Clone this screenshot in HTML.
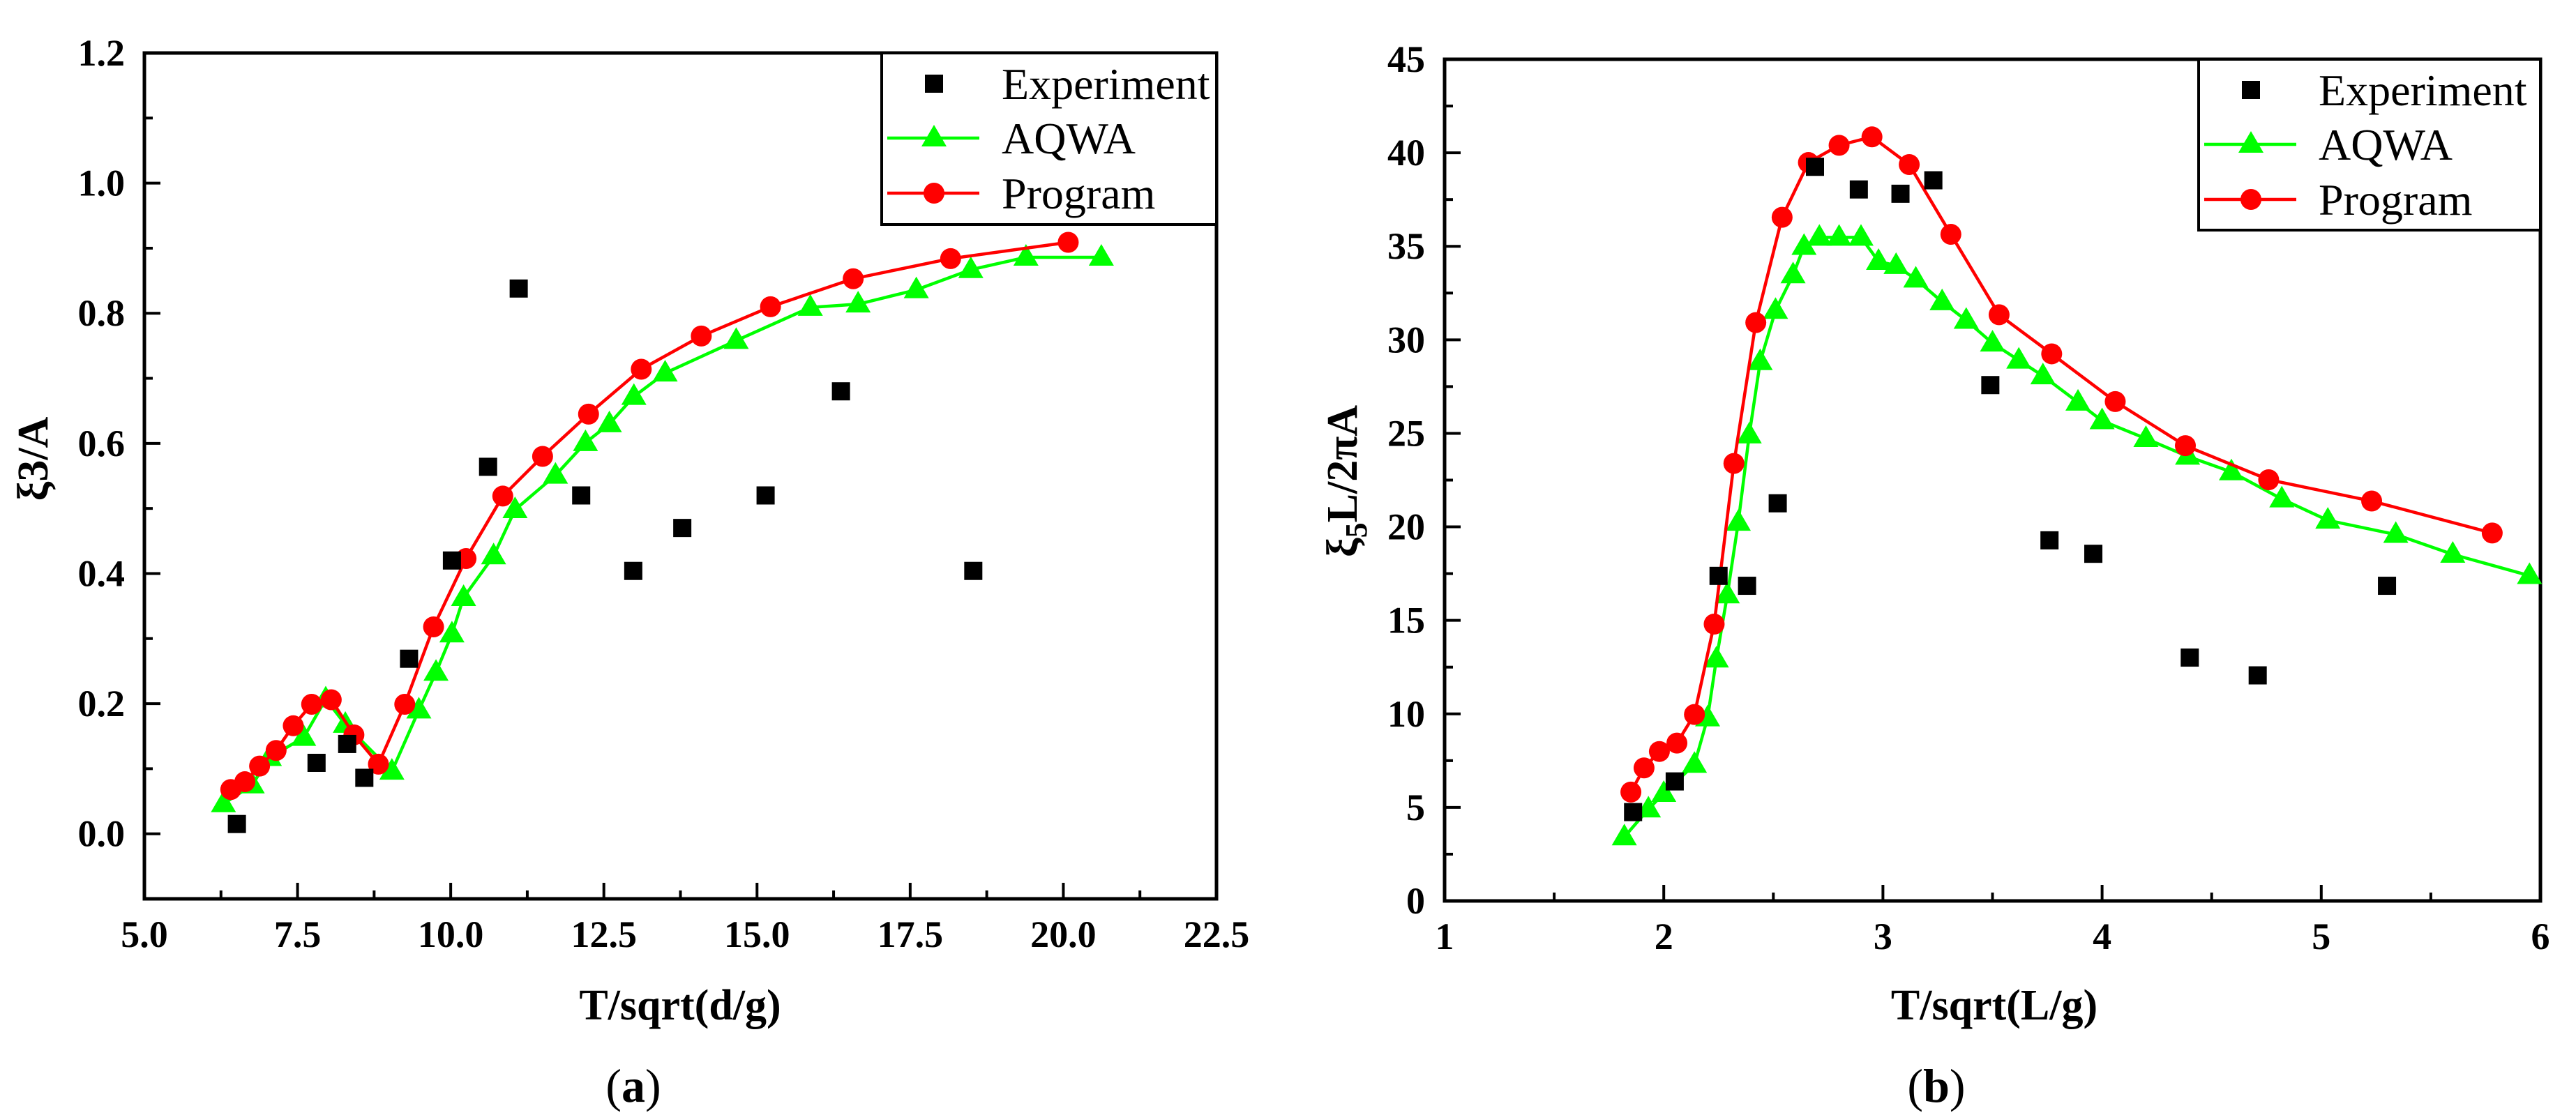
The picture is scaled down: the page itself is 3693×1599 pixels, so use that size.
<!DOCTYPE html>
<html><head><meta charset="utf-8"><style>
html,body{margin:0;padding:0;background:#fff;}
svg{display:block;font-family:"Liberation Serif",serif;}
text{font-family:"Liberation Serif",serif;}
</style></head><body>
<svg id="c" width="3693" height="1599" viewBox="0 0 3693 1599" xmlns="http://www.w3.org/2000/svg"></svg>
<script>
// Panel (a) data
const aExpX=[6.51,7.81,8.31,8.59,9.32,10.02,10.61,11.11,12.13,12.98,13.78,15.14,16.37,18.53];
const aExpY=[0.015,0.109,0.138,0.086,0.269,0.420,0.564,0.838,0.520,0.404,0.470,0.520,0.680,0.404];
const aAqX=[6.29,6.76,7.04,7.60,7.96,8.28,9.04,9.48,9.76,10.02,10.21,10.70,11.05,11.71,12.20,12.59,12.99,13.50,14.66,15.87,16.65,17.60,18.49,19.39,20.62];
const aAqY=[0.046,0.075,0.117,0.148,0.207,0.168,0.096,0.190,0.248,0.307,0.363,0.427,0.498,0.551,0.601,0.630,0.672,0.708,0.758,0.809,0.814,0.836,0.867,0.886,0.886];
const aPrX=[6.41,6.64,6.88,7.15,7.43,7.73,8.05,8.42,8.82,9.25,9.72,10.25,10.85,11.50,12.25,13.11,14.09,15.22,16.57,18.16,20.08];
const aPrY=[0.068,0.080,0.104,0.128,0.166,0.199,0.206,0.152,0.107,0.199,0.318,0.423,0.519,0.580,0.645,0.714,0.765,0.810,0.853,0.884,0.909];
const aXTicks=["5.0","7.5","10.0","12.5","15.0","17.5","20.0","22.5"];
const aYTicks=["0.0","0.2","0.4","0.6","0.8","1.0","1.2"];
// Panel (b) data
const bExpX=[1.86,2.05,2.25,2.38,2.52,2.69,2.89,3.08,3.23,3.49,3.76,3.96,4.40,4.71,5.30];
const bExpY=[4.75,6.39,17.38,16.85,21.26,39.25,38.04,37.81,38.53,27.58,19.28,18.56,13.01,12.06,16.85];
const bAqX=[1.82,1.93,2.00,2.14,2.20,2.24,2.29,2.34,2.39,2.44,2.51,2.59,2.64,2.71,2.80,2.90,2.98,3.06,3.15,3.27,3.38,3.50,3.62,3.73,3.89,4.00,4.20,4.39,4.59,4.82,5.03,5.34,5.60,5.95];
const bAqY=[3.42,4.91,5.74,7.30,9.78,12.93,16.36,20.24,24.91,28.83,31.57,33.47,34.99,35.48,35.48,35.48,34.19,33.97,33.24,32.03,31.04,29.82,28.91,28.07,26.66,25.67,24.72,23.77,22.94,21.49,20.35,19.59,18.53,17.39];
const bPrX=[1.85,1.91,1.98,2.06,2.14,2.23,2.32,2.42,2.54,2.66,2.80,2.95,3.12,3.31,3.53,3.77,4.06,4.38,4.76,5.23,5.78];
const bPrY=[5.82,7.11,7.99,8.44,9.97,14.80,23.39,30.92,36.55,39.48,40.40,40.85,39.37,35.64,31.34,29.25,26.70,24.34,22.52,21.38,19.67];
const bXTicks=["1","2","3","4","5","6"];
const bYTicks=["0","5","10","15","20","25","30","35","40","45"];

const NS="http://www.w3.org/2000/svg";
const FF='"Liberation Serif", serif';
const svg=document.getElementById('c');
function mk(tag,attrs,parent){const e=document.createElementNS(NS,tag);for(const k in attrs)e.setAttribute(k,attrs[k]);if(tag==='text')e.setAttribute('font-family',FF);(parent||svg).appendChild(e);return e;}

function panel(cfg){
  const g=mk('g',{});
  
  
  const sx=v=>cfg.L+(v-cfg.x0)/(cfg.x1-cfg.x0)*(cfg.R-cfg.L);
  const sy=v=>cfg.B-(v-cfg.y0)/(cfg.y1-cfg.y0)*(cfg.B-cfg.T);
  for(let v=cfg.xs;v<=cfg.x1+1e-9;v+=cfg.xstep/2){
    const major=Math.abs(((v-cfg.xs)/cfg.xstep)-Math.round((v-cfg.xs)/cfg.xstep))<1e-6;
    const t=mk('line',{x1:sx(v),x2:sx(v),y1:cfg.B,y2:cfg.B-(major?23:12),stroke:'#000','stroke-width':4},g);
    
    
  }
  cfg.xt.forEach((s,i)=>{
    const v=cfg.xs+i*cfg.xstep;
    const t=mk('text',{x:sx(v),y:cfg.B+69,'font-size':54,'font-weight':'bold','text-anchor':'middle'},g);
    t.textContent=s;
    
    
  });
  for(let v=cfg.ys;v<=cfg.y1+1e-9;v+=cfg.ystep/2){
    const major=Math.abs(((v-cfg.ys)/cfg.ystep)-Math.round((v-cfg.ys)/cfg.ystep))<1e-6;
    const t=mk('line',{x1:cfg.L,x2:cfg.L+(major?23:12),y1:sy(v),y2:sy(v),stroke:'#000','stroke-width':4},g);
    
    
  }
  cfg.yt.forEach((s,i)=>{
    const v=cfg.ys+i*cfg.ystep;
    const t=mk('text',{x:cfg.L-28,y:sy(v)+18,'font-size':54,'font-weight':'bold','text-anchor':'end'},g);
    t.textContent=s;
    
    
  });
  const fr=mk('rect',{x:cfg.L,y:cfg.T,width:cfg.R-cfg.L,height:cfg.B-cfg.T,fill:'none',stroke:'#000','stroke-width':5},g);
  
  
  function line(xs,ys,col,name){
    const p=mk('polyline',{points:xs.map((x,i)=>sx(x)+','+sy(ys[i])).join(' '),fill:'none',stroke:col,'stroke-width':4.5,'stroke-linejoin':'round'},g);
    
    
  }
  line(cfg.aqx,cfg.aqy,'#00ff00','aqwa-line');
  cfg.aqx.forEach((x,i)=>{
    const cx=sx(x),cy=sy(cfg.aqy[i]);
    const t=mk('polygon',{points:`${cx},${cy-19} ${cx-18},${cy+12} ${cx+18},${cy+12}`,fill:'#00ff00'},g);
    
    
  });
  line(cfg.prx,cfg.pry,'#ff0000','program-line');
  cfg.prx.forEach((x,i)=>{
    const c=mk('circle',{cx:sx(x),cy:sy(cfg.pry[i]),r:15,fill:'#ff0000'},g);
    
    
  });
  cfg.ex.forEach((x,i)=>{
    const r=mk('rect',{x:sx(x)-13,y:sy(cfg.ey[i])-13,width:26,height:26,fill:'#000'},g);
    
    
  });
  const lg=mk('g',{},g);
  
  
  mk('rect',{x:cfg.lx,y:cfg.T,width:cfg.R-cfg.lx,height:cfg.lh,fill:'#fff',stroke:'#000','stroke-width':4},lg);
  const sym=cfg.lx+75, tx=cfg.lx+172;
  const ly=[cfg.T+44,cfg.T+122,cfg.T+201];
  mk('rect',{x:sym-13,y:ly[0]-13,width:26,height:26,fill:'#000'},lg);
  mk('line',{x1:cfg.lx+8,x2:cfg.lx+140,y1:ly[1],y2:ly[1],stroke:'#00ff00','stroke-width':4.5},lg);
  mk('polygon',{points:`${sym},${ly[1]-19} ${sym-18},${ly[1]+12} ${sym+18},${ly[1]+12}`,fill:'#00ff00'},lg);
  mk('line',{x1:cfg.lx+8,x2:cfg.lx+140,y1:ly[2],y2:ly[2],stroke:'#ff0000','stroke-width':4.5},lg);
  mk('circle',{cx:sym,cy:ly[2],r:15,fill:'#ff0000'},lg);
  ["Experiment","AQWA","Program"].forEach((s,i)=>{
    const t=mk('text',{x:tx,y:ly[i]+22,'font-size':64},lg);
    t.textContent=s;
    
    
  });
  return g;
}

panel({name:'panel-a',L:207,R:1744,T:76,B:1289,x0:5,x1:22.5,y0:-0.1,y1:1.2,xs:5,xstep:2.5,ys:0,ystep:0.2,
  xt:aXTicks,yt:aYTicks,ex:aExpX,ey:aExpY,aqx:aAqX,aqy:aAqY,prx:aPrX,pry:aPrY,lx:1264,lh:246});
panel({name:'panel-b',L:2071,R:3642,T:85,B:1292,x0:1,x1:6,y0:0,y1:45,xs:1,xstep:1,ys:0,ystep:5,
  xt:bXTicks,yt:bYTicks,ex:bExpX,ey:bExpY,aqx:bAqX,aqy:bAqY,prx:bPrX,pry:bPrY,lx:3152,lh:245});

function txt(x,y,s,attrs,name){const t=mk('text',Object.assign({x:x,y:y},attrs));t.innerHTML=s;return t;}
txt(975,1462,'T/sqrt(d/g)',{'font-size':62,'font-weight':'bold','text-anchor':'middle'},'x-axis-title-a');
txt(2859,1462,'T/sqrt(L/g)',{'font-size':62,'font-weight':'bold','text-anchor':'middle'},'x-axis-title-b');
txt(908,1580,'(<tspan font-weight="bold">a</tspan>)',{'font-size':68,'text-anchor':'middle'},'caption-a');
txt(2776,1580,'(<tspan font-weight="bold">b</tspan>)',{'font-size':68,'text-anchor':'middle'},'caption-b');
txt(0,0,'ξ3/A',{'font-size':62,'font-weight':'bold','text-anchor':'middle',transform:'translate(68,658) rotate(-90)'},'y-axis-title-a');
txt(0,0,'ξ<tspan font-size="44" dy="14">5</tspan><tspan dy="-14">L/2πA</tspan>',{'font-size':62,'font-weight':'bold','text-anchor':'middle',transform:'translate(1945,690) rotate(-90)'},'y-axis-title-b');
</script>
</body></html>
